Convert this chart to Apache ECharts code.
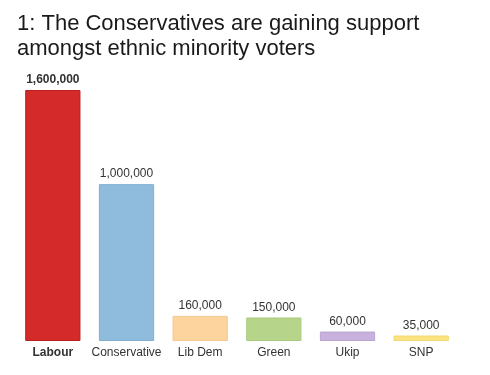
<!DOCTYPE html>
<html>
<head>
<meta charset="utf-8">
<script src="https://cdn.jsdelivr.net/npm/echarts@6/dist/echarts.min.js"></script>
<style>
  html, body { margin: 0; padding: 0; background: #fff; }
  #chart { width: 490px; height: 375px; }
</style>
</head>
<body>
<div id="chart"></div>
<script>
// 数据
const parties = ['Labour', 'Conservative', 'Lib Dem', 'Green', 'Ukip', 'SNP'];
const voters = [1600000, 1000000, 160000, 150000, 60000, 35000];
const partyColors = ['#d52a2a', '#8fbbdc', '#fdd39e', '#b7d58a', '#c8b1dc', '#fbe47f'];
const borderColors = ['#b82020', '#83aed0', '#f5c890', '#aacb7e', '#bba3d0', '#f2d870'];

const chart = echarts.init(document.getElementById('chart'));

const option = {
    animation: false,
    title: {
        text: '1: The Conservatives are gaining support\namongst ethnic minority voters',
        left: 12,
        top: 6,
        textStyle: {
            fontFamily: 'Liberation Sans',
            fontSize: 22,
            fontWeight: 'normal',
            color: '#1a1a1a',
            lineHeight: 25
        }
    },
    grid: {
        left: 16,
        right: 32,
        top: 90,
        bottom: 34
    },
    xAxis: {
        type: 'category',
        data: parties,
        axisLine: { show: false },
        axisTick: { show: false },
        axisLabel: {
            interval: 0,
            margin: 6,
            fontFamily: 'Liberation Sans',
            fontSize: 12,
            color: '#333',
            formatter: function (v) {
                return v === 'Labour' ? '{b|' + v + '}' : v;
            },
            rich: {
                b: { fontWeight: 'bold', fontFamily: 'Liberation Sans', fontSize: 12, color: '#333' }
            }
        }
    },
    yAxis: {
        type: 'value',
        min: 0,
        max: 1600000,
        show: false
    },
    series: [{
        type: 'bar',
        barWidth: '75%',
        data: voters.map(function (v, i) {
            return {
                value: v,
                itemStyle: { color: partyColors[i], borderColor: borderColors[i], borderWidth: 1 },
                label: { fontWeight: i === 0 ? 'bold' : 'normal' }
            };
        }),
        label: {
            show: true,
            position: 'top',
            distance: 4,
            fontFamily: 'Liberation Sans',
            fontSize: 12,
            color: '#333',
            formatter: function (p) {
                return p.value.toLocaleString('en-US');
            }
        }
    }]
};

chart.setOption(option);
</script>
</body>
</html>
